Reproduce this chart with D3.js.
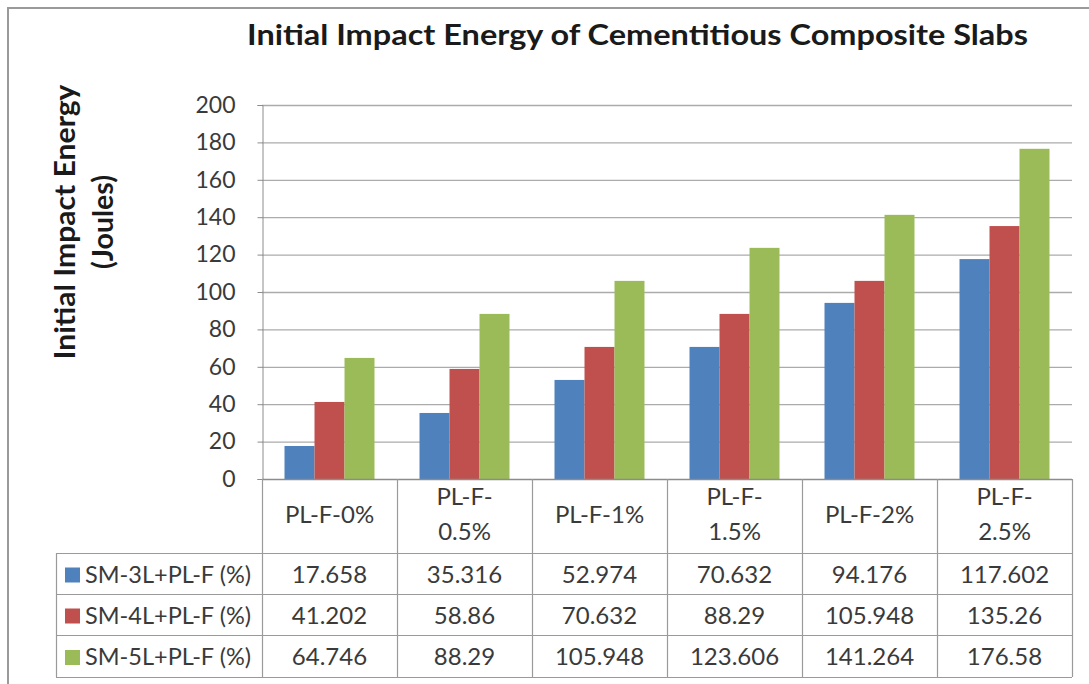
<!DOCTYPE html>
<html><head><meta charset="utf-8">
<script src="https://cdn.jsdelivr.net/npm/d3@7"></script>
<style>body{margin:0;background:#fff}svg{display:block}</style>
</head><body>
<script>
const categories = [["PL-F-0%"],["PL-F-","0.5%"],["PL-F-1%"],["PL-F-","1.5%"],["PL-F-2%"],["PL-F-","2.5%"]];
const seriesNames = ["SM-3L+PL-F (%)","SM-4L+PL-F (%)","SM-5L+PL-F (%)"];
const sm3 = [17.658,35.316,52.974,70.632,94.176,117.602];
const sm4 = [41.202,58.86,70.632,88.29,105.948,135.26];
const sm5 = [64.746,88.29,105.948,123.606,141.264,176.58];
const yTicks = [0,20,40,60,80,100,120,140,160,180,200];
const colors = ["#4F81BD","#C0504D","#9BBB59"];
const series = [sm3,sm4,sm5];
const catKeys = categories.map(c=>c.join(""));

const W=1089,H=684;
const svg=d3.select("body").append("svg").attr("width",W).attr("height",H);
const font="Lato, 'Open Sans', sans-serif";
const txt="#3a3a3a";

// outer frame (top and left visible; right/bottom beyond the picture)
svg.append("rect").attr("x",8).attr("y",8).attr("width",1200).attr("height",H+20).attr("fill","none").attr("stroke","#9a9a9a").attr("stroke-width",2);

const L=262,R=1072,T=105,B=479;
const y=d3.scaleLinear().domain([0,200]).range([B,T]);
const x0=d3.scaleBand().domain(catKeys).range([L,R]);
const x1=d3.scaleBand().domain(seriesNames).range([0,x0.bandwidth()]).paddingOuter(0.75).paddingInner(0);

// title
svg.append("text").attr("x",637.5).attr("y",45).attr("text-anchor","middle")
  .attr("font-family",font).attr("font-weight","bold").attr("font-size",28.5).attr("fill","#1a1a1a")
  .attr("textLength",781).attr("lengthAdjust","spacingAndGlyphs")
  .text("Initial Impact Energy of Cementitious Composite Slabs");

// y axis title
const yt=svg.append("g").attr("transform","translate(75,222) rotate(-90)");
yt.append("text").attr("x",0).attr("y",0).attr("text-anchor","middle").attr("font-family",font)
  .attr("font-weight","bold").attr("font-size",28.5).attr("fill","#1a1a1a")
  .attr("textLength",275).attr("lengthAdjust","spacingAndGlyphs").text("Initial Impact Energy");
yt.append("text").attr("x",0).attr("y",38).attr("text-anchor","middle").attr("font-family",font)
  .attr("font-weight","bold").attr("font-size",28.5).attr("fill","#1a1a1a").text("(Joules)");

// gridlines
svg.append("g").selectAll("line").data(yTicks.filter(d=>d>0)).join("line")
  .attr("x1",L).attr("x2",R).attr("y1",d=>y(d)+0.5).attr("y2",d=>y(d)+0.5)
  .attr("stroke","#ababab").attr("stroke-width",1.3);

// y axis
const ya=svg.append("g").attr("transform",`translate(${L+0.5},0)`)
  .call(d3.axisLeft(y).tickValues(yTicks).tickSize(5).tickPadding(22));
ya.select(".domain").attr("stroke","#8c8c8c");
ya.selectAll(".tick line").attr("stroke","#8c8c8c");
ya.selectAll(".tick text").attr("font-family",font).attr("font-size",23).attr("fill",txt);

// bars
const g=svg.append("g");
series.forEach((vals,si)=>{
  g.selectAll(".b"+si).data(vals).join("rect")
    .attr("x",(d,i)=>x0(catKeys[i])+x1(seriesNames[si]))
    .attr("width",x1.bandwidth())
    .attr("y",d=>y(d)).attr("height",d=>B-y(d))
    .attr("fill",colors[si]);
});

// x axis line
svg.append("line").attr("x1",L).attr("x2",R).attr("y1",B+0.5).attr("y2",B+0.5).attr("stroke","#8c8c8c").attr("stroke-width",1.3);

// table
const rowY=[553,594,635,677];
const TL=56;
const tg=svg.append("g").attr("stroke","#9a9a9a").attr("stroke-width",1.2);
tg.append("line").attr("x1",L+0.5).attr("x2",L+0.5).attr("y1",B).attr("y2",rowY[3]);
catKeys.forEach(k=>{
  const xr=x0(k)+x0.bandwidth();
  tg.append("line").attr("x1",xr+0.5).attr("x2",xr+0.5).attr("y1",B).attr("y2",rowY[3]);
});
rowY.forEach(ry=>tg.append("line").attr("x1",TL).attr("x2",R).attr("y1",ry+0.5).attr("y2",ry+0.5));
tg.append("line").attr("x1",TL+0.5).attr("x2",TL+0.5).attr("y1",rowY[0]).attr("y2",rowY[3]);

// category labels
categories.forEach((c,i)=>{
  const cx=x0(catKeys[i])+x0.bandwidth()/2;
  const t=svg.append("text").attr("text-anchor","middle").attr("font-family",font).attr("font-size",24).attr("fill",txt);
  if(c.length===1){ t.append("tspan").attr("x",cx).attr("y",523).text(c[0]); }
  else { t.append("tspan").attr("x",cx).attr("y",505).text(c[0]); t.append("tspan").attr("x",cx).attr("y",540).text(c[1]); }
});

// rows
series.forEach((vals,si)=>{
  const cy=(rowY[si]+rowY[si+1])/2;
  svg.append("rect").attr("x",65).attr("y",cy-6).attr("width",15).attr("height",15).attr("fill",colors[si]);
  svg.append("text").attr("x",85).attr("y",cy+9).attr("font-family",font).attr("font-size",23.5).attr("fill",txt).text(seriesNames[si]);
  svg.append("g").selectAll("text").data(vals).join("text")
    .attr("x",(d,i)=>x0(catKeys[i])+x0.bandwidth()/2).attr("y",cy+9).attr("text-anchor","middle")
    .attr("font-family",font).attr("font-size",24).attr("fill",txt).text(d=>d);
});
</script>
</body></html>
